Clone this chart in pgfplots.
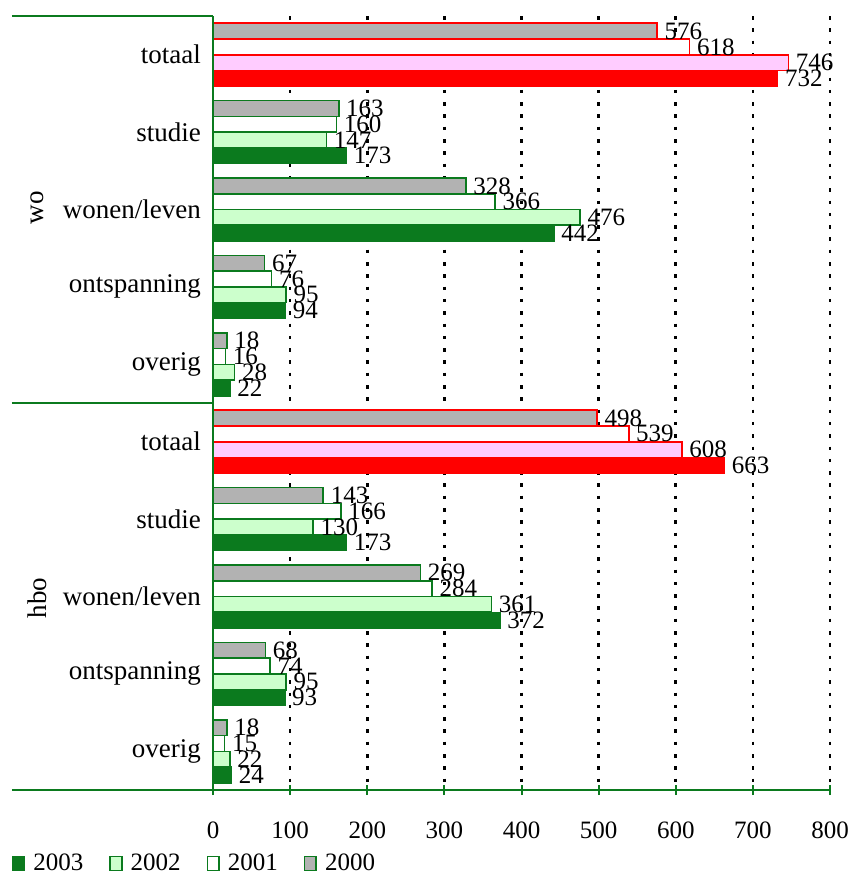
\documentclass[border=0pt]{standalone}
\usepackage{fontspec}
\setmainfont{Liberation Serif}
\usepackage{pgfplots}
\pgfplotsset{compat=1.18}

\definecolor{dgreen}{RGB}{11,122,30}
\definecolor{lgreen}{RGB}{204,255,204}
\definecolor{bgray}{RGB}{178,178,178}
\definecolor{lpink}{RGB}{255,204,255}

\pgfplotsset{
  legsq/.style={legend image code/.code={\draw[##1, line width=0.8pt] (0pt,-3.5pt) rectangle (5.8pt,3.5pt);}},
}

\begin{document}
\begin{tikzpicture}
\begin{axis}[
  at={(0,0)}, anchor=south west,
  scale only axis, width=308.5pt, height=387pt,
  xmin=0, xmax=800, ymin=-0.5, ymax=9.5, y dir=reverse,
  xbar, bar width=0.204,
  axis line style={draw=none},
  xtick={0,100,...,800}, xtick pos=bottom,
  ytick={0,...,9},
  yticklabels={totaal,studie,wonen/leven,ontspanning,overig,totaal,studie,wonen/leven,ontspanning,overig},
  ytick style={draw=none},
  xtick style={draw=dgreen, line width=1pt},
  tick align=center, major tick length=5pt,
  xmajorgrids, grid style={black, line width=1.3pt, dash pattern=on 1.75pt off 4.4pt},
  xticklabel style={font=\fontsize{12.5}{14}\selectfont, yshift=-10pt},
  yticklabel style={font=\fontsize{13.5}{15}\selectfont},
  /pgf/number format/assume math mode=true,
  nodes near coords,
  nodes near coords style={font=\fontsize{12.5}{14}\selectfont, black},
  legend columns=4,
  legend style={at={(-0.326,-0.095)}, anchor=west, draw=none, fill=none,
    inner sep=0pt, font=\fontsize{12.5}{14}\selectfont,
    /tikz/every even column/.append style={column sep=11pt},
    /tikz/every odd column/.append style={column sep=2pt}},
]
% 2003
\addplot[fill=dgreen, draw=dgreen, line width=0.8pt, bar shift=0.306, legsq]
  coordinates {(173,1)(442,2)(94,3)(22,4)(173,6)(372,7)(93,8)(24,9)};
\addlegendentry{2003}
% 2002
\addplot[fill=lgreen, draw=dgreen, line width=0.8pt, bar shift=0.102, legsq]
  coordinates {(147,1)(476,2)(95,3)(28,4)(130,6)(361,7)(95,8)(22,9)};
\addlegendentry{2002}
% 2001
\addplot[fill=white, draw=dgreen, line width=0.8pt, bar shift=-0.102, legsq]
  coordinates {(160,1)(366,2)(76,3)(16,4)(166,6)(284,7)(74,8)(15,9)};
\addlegendentry{2001}
% 2000
\addplot[fill=bgray, draw=dgreen, line width=0.8pt, bar shift=-0.306, legsq]
  coordinates {(163,1)(328,2)(67,3)(18,4)(143,6)(269,7)(68,8)(18,9)};
\addlegendentry{2000}
% totaal rows in red
\addplot[fill=red, draw=red, line width=0.8pt, bar shift=0.306, forget plot]
  coordinates {(732,0)(663,5)};
\addplot[fill=lpink, draw=red, line width=0.8pt, bar shift=0.102, forget plot]
  coordinates {(746,0)(608,5)};
\addplot[fill=white, draw=red, line width=0.8pt, bar shift=-0.102, forget plot]
  coordinates {(618,0)(539,5)};
\addplot[fill=bgray, draw=red, line width=0.8pt, bar shift=-0.306, forget plot]
  coordinates {(576,0)(498,5)};
\end{axis}
\draw[dgreen, line width=1pt] (-100.5pt,387pt) -- (0pt,387pt);
\draw[dgreen, line width=1pt] (-100.5pt,193.5pt) -- (0pt,193.5pt);
\draw[dgreen, line width=1pt] (-100.5pt,0pt) -- (308.5pt,0pt);
\draw[dgreen, line width=1pt] (0pt,0pt) -- (0pt,387pt);
\node[rotate=90, font=\fontsize{13.5}{15}\selectfont] at (-88pt,291pt) {wo};
\node[rotate=90, font=\fontsize{13.5}{15}\selectfont] at (-88pt,96pt) {hbo};
\pgfresetboundingbox
\path[use as bounding box] (-106.5pt,-43pt) rectangle (318pt,395pt);
\end{tikzpicture}
\end{document}
